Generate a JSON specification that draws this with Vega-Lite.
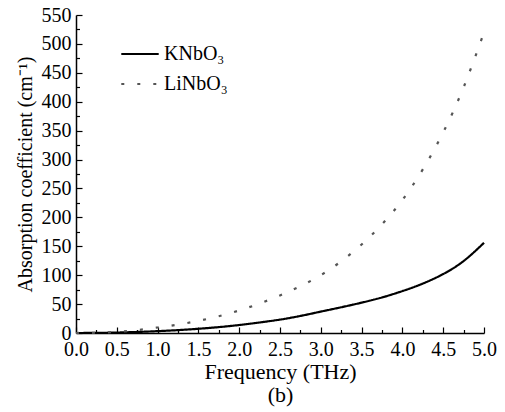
{
  "$schema": "https://vega.github.io/schema/vega-lite/v6.json",
  "width": 408,
  "height": 318,
  "autosize": "none",
  "padding": {"left": 76, "top": 15, "right": 21, "bottom": 79},
  "config": {
    "view": {"stroke": null},
    "font": "Liberation Serif",
    "axis": {"grid": false, "domainColor": "#000", "tickColor": "#000", "labelColor": "#000", "titleColor": "#000", "labelFont": "Liberation Serif", "titleFont": "Liberation Serif", "titleFontWeight": "normal", "domainWidth": 1.5, "tickWidth": 1.2}
  },
  "data": {"values": [
    {"f": 0.0, "a": 0.0, "m": "KNbO₃"}, {"f": 0.25, "a": 0.2, "m": "KNbO₃"}, {"f": 0.5, "a": 0.8, "m": "KNbO₃"}, {"f": 0.75, "a": 1.8, "m": "KNbO₃"}, {"f": 1.0, "a": 3.2, "m": "KNbO₃"}, {"f": 1.25, "a": 5, "m": "KNbO₃"}, {"f": 1.5, "a": 7.3, "m": "KNbO₃"}, {"f": 1.75, "a": 10.2, "m": "KNbO₃"}, {"f": 2.0, "a": 13.8, "m": "KNbO₃"}, {"f": 2.25, "a": 18.2, "m": "KNbO₃"}, {"f": 2.5, "a": 23.2, "m": "KNbO₃"}, {"f": 2.75, "a": 29.5, "m": "KNbO₃"}, {"f": 3.0, "a": 37, "m": "KNbO₃"}, {"f": 3.25, "a": 44.5, "m": "KNbO₃"}, {"f": 3.5, "a": 52.5, "m": "KNbO₃"}, {"f": 3.75, "a": 61.5, "m": "KNbO₃"}, {"f": 4.0, "a": 72.5, "m": "KNbO₃"}, {"f": 4.25, "a": 85.5, "m": "KNbO₃"}, {"f": 4.5, "a": 102, "m": "KNbO₃"}, {"f": 4.75, "a": 124.5, "m": "KNbO₃"}, {"f": 5.0, "a": 156, "m": "KNbO₃"},
    {"f": 0.0, "a": 0.0, "m": "LiNbO₃"}, {"f": 0.25, "a": 0.5, "m": "LiNbO₃"}, {"f": 0.5, "a": 2, "m": "LiNbO₃"}, {"f": 0.75, "a": 5, "m": "LiNbO₃"}, {"f": 1.0, "a": 9.5, "m": "LiNbO₃"}, {"f": 1.25, "a": 14.5, "m": "LiNbO₃"}, {"f": 1.5, "a": 21, "m": "LiNbO₃"}, {"f": 1.75, "a": 29, "m": "LiNbO₃"}, {"f": 2.0, "a": 39, "m": "LiNbO₃"}, {"f": 2.25, "a": 51, "m": "LiNbO₃"}, {"f": 2.5, "a": 65, "m": "LiNbO₃"}, {"f": 2.75, "a": 81, "m": "LiNbO₃"}, {"f": 3.0, "a": 100, "m": "LiNbO₃"}, {"f": 3.25, "a": 124, "m": "LiNbO₃"}, {"f": 3.5, "a": 153, "m": "LiNbO₃"}, {"f": 3.75, "a": 188, "m": "LiNbO₃"}, {"f": 4.0, "a": 230, "m": "LiNbO₃"}, {"f": 4.25, "a": 283, "m": "LiNbO₃"}, {"f": 4.5, "a": 347, "m": "LiNbO₃"}, {"f": 4.75, "a": 425, "m": "LiNbO₃"}, {"f": 5.0, "a": 520, "m": "LiNbO₃"}
  ]},
  "resolve": {"axis": {"x": "independent", "y": "independent"}},
  "layer": [
    {
      "mark": {"type": "line", "interpolate": "natural"},
      "encoding": {
        "x": {"field": "f", "type": "quantitative", "scale": {"domain": [0, 5], "nice": false},
          "axis": {"values": [0, 0.5, 1, 1.5, 2, 2.5, 3, 3.5, 4, 4.5, 5], "format": ".1f", "labelFontSize": 20, "tickSize": -6, "labelPadding": 12, "title": ["Frequency (THz)", "(b)"], "titleFontSize": 22, "titlePadding": 2, "titleLineHeight": 23, "labelFlush": false}},
        "y": {"field": "a", "type": "quantitative", "scale": {"domain": [0, 550], "nice": false},
          "axis": {"values": [0, 50, 100, 150, 200, 250, 300, 350, 400, 450, 500, 550], "labelFontSize": 20, "tickSize": -6, "labelPadding": 11, "title": "Absorption coefficient (cm⁻¹)", "titleFontSize": 20, "titlePadding": 6, "labelFlush": false}},
        "color": {"field": "m", "type": "nominal", "scale": {"domain": ["KNbO₃", "LiNbO₃"], "range": ["#000000", "#555555"]},
          "legend": {"orient": "none", "legendX": 44, "legendY": 19, "title": null, "symbolType": "stroke", "symbolSize": 1400, "symbolStrokeWidth": 2.2, "labelFontSize": 20, "labelFont": "Liberation Serif", "labelColor": "#000", "rowPadding": -13, "labelOffset": 4}},
        "strokeDash": {"field": "m", "type": "nominal", "scale": {"domain": ["KNbO₃", "LiNbO₃"], "range": [[1, 0], [3, 13]]},
          "legend": {"orient": "none", "legendX": 44, "legendY": 19, "title": null, "symbolType": "stroke", "symbolSize": 1400, "symbolStrokeWidth": 2.2, "labelFontSize": 20, "labelFont": "Liberation Serif", "labelColor": "#000", "rowPadding": -13, "labelOffset": 4}},
        "strokeWidth": {"value": 2.2}
      }
    },
    {
      "mark": {"type": "point", "opacity": 0},
      "encoding": {
        "x": {"field": "f", "type": "quantitative", "scale": {"domain": [0, 5], "nice": false},
          "axis": {"orient": "bottom", "values": [0.25, 0.75, 1.25, 1.75, 2.25, 2.75, 3.25, 3.75, 4.25, 4.75], "labels": false, "domain": false, "tickSize": -3.5, "title": null}},
        "y": {"field": "a", "type": "quantitative", "scale": {"domain": [0, 550], "nice": false},
          "axis": {"orient": "left", "values": [25, 75, 125, 175, 225, 275, 325, 375, 425, 475, 525], "labels": false, "domain": false, "tickSize": -3.5, "title": null}}
      }
    }
  ]
}
